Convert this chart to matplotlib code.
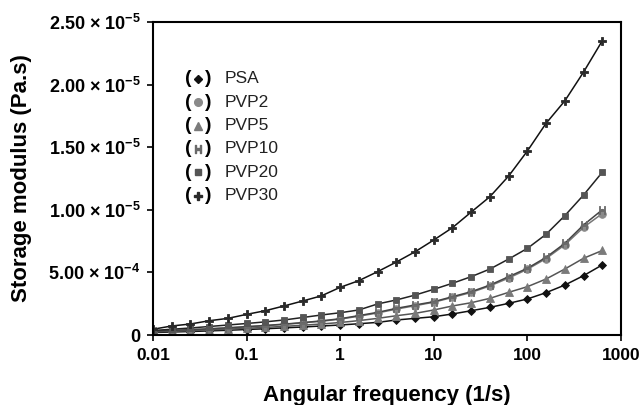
import matplotlib
matplotlib.use('Agg')
import matplotlib.pyplot as plt
import numpy as np

# angular frequency, 5 points per decade from 0.01 to ~631 1/s
freq = [0.01, 0.0158, 0.0251, 0.0398, 0.0631, 0.1, 0.158, 0.251, 0.398, 0.631,
        1.0, 1.58, 2.51, 3.98, 6.31, 10.0, 15.8, 25.1, 39.8, 63.1,
        100.0, 158.0, 251.0, 398.0, 631.0]

# storage modulus, units of 1e-5
psa = [0.020, 0.024, 0.028, 0.033, 0.038, 0.044, 0.050, 0.057, 0.064, 0.072,
       0.080, 0.090, 0.101, 0.120, 0.133, 0.146, 0.168, 0.194, 0.221, 0.253,
       0.288, 0.338, 0.399, 0.474, 0.560]
pvp2 = [0.028, 0.034, 0.041, 0.048, 0.056, 0.065, 0.074, 0.085, 0.097, 0.110,
        0.127, 0.150, 0.176, 0.207, 0.234, 0.262, 0.300, 0.340, 0.392, 0.455,
        0.525, 0.610, 0.720, 0.860, 0.970]
pvp5 = [0.025, 0.030, 0.035, 0.041, 0.047, 0.054, 0.061, 0.069, 0.078, 0.088,
        0.100, 0.115, 0.133, 0.154, 0.173, 0.200, 0.232, 0.258, 0.293, 0.341,
        0.386, 0.447, 0.527, 0.613, 0.675]
pvp10 = [0.030, 0.036, 0.043, 0.050, 0.058, 0.067, 0.076, 0.087, 0.099, 0.113,
         0.130, 0.155, 0.181, 0.213, 0.240, 0.266, 0.306, 0.346, 0.399, 0.466,
         0.533, 0.620, 0.732, 0.879, 1.000]
pvp20 = [0.036, 0.046, 0.056, 0.068, 0.080, 0.092, 0.105, 0.120, 0.140, 0.160,
         0.178, 0.200, 0.248, 0.280, 0.319, 0.365, 0.413, 0.466, 0.527, 0.607,
         0.692, 0.804, 0.953, 1.118, 1.300]
pvp30 = [0.046, 0.072, 0.088, 0.114, 0.133, 0.165, 0.194, 0.232, 0.272, 0.313,
         0.381, 0.434, 0.506, 0.583, 0.665, 0.759, 0.857, 0.982, 1.105, 1.270,
         1.470, 1.690, 1.870, 2.100, 2.350]

names = ['PSA', 'PVP2', 'PVP5', 'PVP10', 'PVP20', 'PVP30']
series = [psa, pvp2, pvp5, pvp10, pvp20, pvp30]
markers = ['D', 'o', '^', '$\\mathbf{H}$', 's', 'P']
mcolors = ['#111111', '#8a8a8a', '#7a7a7a', '#6a6a6a', '#555555', '#2a2a2a']
lcolors = ['#111111', '#777777', '#555555', '#444444', '#222222', '#111111']
msizes = [4.5, 5.5, 5.5, 5.5, 5, 5.5]

yticks = [0, 0.5, 1.0, 1.5, 2.0, 2.5]
ytick_labels = ['0',
                '5.00 \u00d7 10$^{\\mathbf{-4}}$',
                '1.00 \u00d7 10$^{\\mathbf{-5}}$',
                '1.50 \u00d7 10$^{\\mathbf{-5}}$',
                '2.00 \u00d7 10$^{\\mathbf{-5}}$',
                '2.50 \u00d7 10$^{\\mathbf{-5}}$']
xticks = [0.01, 0.1, 1, 10, 100, 1000]
xtick_labels = ['0.01', '0.1', '1', '10', '100', '1000']

plt.rcParams['font.family'] = ['Liberation Sans', 'DejaVu Sans']
plt.rcParams['mathtext.fontset'] = 'custom'
plt.rcParams['mathtext.rm'] = 'Liberation Sans'
plt.rcParams['mathtext.bf'] = 'Liberation Sans:bold'

fig = plt.figure(figsize=(6.41, 4.05), dpi=100)
ax = fig.add_axes([0.2387, 0.1728, 0.7301, 0.7729])

for vals, mk, mc, lc, ms in zip(series, markers, mcolors, lcolors, msizes):
    ax.plot(freq, vals, color=lc, lw=1.1, marker=mk, markersize=ms,
            markerfacecolor=mc, markeredgecolor=mc, markeredgewidth=0.6)

ax.set_xscale('log')
ax.set_xlim(0.01, 1000)
ax.set_ylim(0, 2.5)
ax.set_xticks(xticks)
ax.set_xticklabels(xtick_labels)
ax.minorticks_off()
ax.set_yticks(yticks)
ax.set_yticklabels(ytick_labels)
for lab in ax.get_xticklabels():
    lab.set_fontweight('bold')
    lab.set_fontsize(12.5)
for lab in ax.get_yticklabels():
    lab.set_fontweight('bold')
    lab.set_fontsize(13)
ax.tick_params(axis='both', direction='out', length=4, width=1.2, pad=5)
for sp in ax.spines.values():
    sp.set_linewidth(1.5)

ax.set_xlabel('Angular frequency (1/s)', fontsize=16, fontweight='bold', labelpad=16)
ax.set_ylabel('Storage modulus (Pa.s)', fontsize=16, fontweight='bold', labelpad=12)

# hand-made legend in axes coordinates
for k, (name, mk, mc, ms) in enumerate(zip(names, markers, mcolors, msizes)):
    yy = 0.818 - k * 0.0745
    ax.text(0.075, yy, '(', transform=ax.transAxes, fontsize=14, fontweight='bold',
            va='center', ha='center')
    ax.text(0.118, yy, ')', transform=ax.transAxes, fontsize=14, fontweight='bold',
            va='center', ha='center')
    ax.plot([0.0965], [yy], transform=ax.transAxes, marker=mk, markersize=ms,
            color=mc, markeredgecolor=mc, linestyle='none')
    ax.text(0.153, yy, name, transform=ax.transAxes, fontsize=12.5,
            va='center', ha='left', color='#222222')

fig.savefig('out.png', dpi=100)
